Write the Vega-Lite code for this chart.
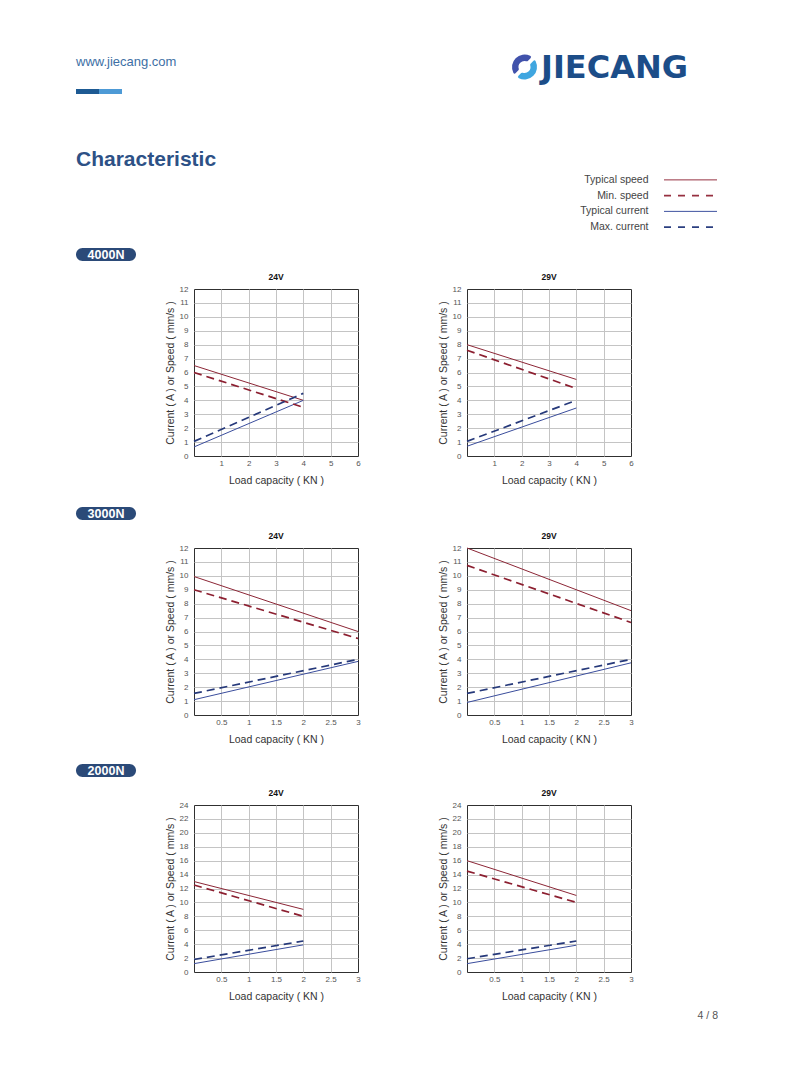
{
  "$schema": "https://vega.github.io/schema/vega-lite/v6.json",
  "background": "white",
  "padding": {"left": 76, "top": 52, "right": 0, "bottom": 0},
  "autosize": {"type": "pad"},
  "config": {
    "view": {"stroke": null},
    "font": "Liberation Sans",
    "axis": {"labelFont": "Liberation Sans", "labelFontSize": 8, "labelColor": "#555555", "titleFont": "Liberation Sans", "titleFontSize": 10.5, "titleFontWeight": "normal", "titleColor": "#333333", "ticks": false, "domain": false, "gridColor": "#c4c4c4", "gridWidth": 1, "labelFlush": false, "labelOverlap": false},
    "axisX": {"labelPadding": 3, "titlePadding": 8},
    "axisY": {"labelPadding": 6, "titlePadding": 4},
    "title": {"font": "Liberation Sans"},
    "text": {"font": "Liberation Sans"}
  },
  "datasets": {
    "curves": [
      {"panel": "4000N 24V", "series": "Typical speed", "load": 0, "value": 6.5},
      {"panel": "4000N 24V", "series": "Typical speed", "load": 4, "value": 4.0},
      {"panel": "4000N 24V", "series": "Min. speed", "load": 0, "value": 6.0},
      {"panel": "4000N 24V", "series": "Min. speed", "load": 4, "value": 3.5},
      {"panel": "4000N 24V", "series": "Typical current", "load": 0, "value": 0.65},
      {"panel": "4000N 24V", "series": "Typical current", "load": 4, "value": 4.0},
      {"panel": "4000N 24V", "series": "Max. current", "load": 0, "value": 1.05},
      {"panel": "4000N 24V", "series": "Max. current", "load": 4, "value": 4.5},
      {"panel": "4000N 29V", "series": "Typical speed", "load": 0, "value": 8.0},
      {"panel": "4000N 29V", "series": "Typical speed", "load": 4, "value": 5.5},
      {"panel": "4000N 29V", "series": "Min. speed", "load": 0, "value": 7.6},
      {"panel": "4000N 29V", "series": "Min. speed", "load": 4, "value": 4.85},
      {"panel": "4000N 29V", "series": "Typical current", "load": 0, "value": 0.7},
      {"panel": "4000N 29V", "series": "Typical current", "load": 4, "value": 3.45},
      {"panel": "4000N 29V", "series": "Max. current", "load": 0, "value": 1.05},
      {"panel": "4000N 29V", "series": "Max. current", "load": 4, "value": 4.0},
      {"panel": "3000N 24V", "series": "Typical speed", "load": 0, "value": 9.95},
      {"panel": "3000N 24V", "series": "Typical speed", "load": 3, "value": 6.0},
      {"panel": "3000N 24V", "series": "Min. speed", "load": 0, "value": 9.0},
      {"panel": "3000N 24V", "series": "Min. speed", "load": 3, "value": 5.5},
      {"panel": "3000N 24V", "series": "Typical current", "load": 0, "value": 1.1},
      {"panel": "3000N 24V", "series": "Typical current", "load": 3, "value": 3.85},
      {"panel": "3000N 24V", "series": "Max. current", "load": 0, "value": 1.55},
      {"panel": "3000N 24V", "series": "Max. current", "load": 3, "value": 4.0},
      {"panel": "3000N 29V", "series": "Typical speed", "load": 0, "value": 12.0},
      {"panel": "3000N 29V", "series": "Typical speed", "load": 3, "value": 7.5},
      {"panel": "3000N 29V", "series": "Min. speed", "load": 0, "value": 10.75},
      {"panel": "3000N 29V", "series": "Min. speed", "load": 3, "value": 6.65},
      {"panel": "3000N 29V", "series": "Typical current", "load": 0, "value": 0.9},
      {"panel": "3000N 29V", "series": "Typical current", "load": 3, "value": 3.75},
      {"panel": "3000N 29V", "series": "Max. current", "load": 0, "value": 1.55},
      {"panel": "3000N 29V", "series": "Max. current", "load": 3, "value": 4.0},
      {"panel": "2000N 24V", "series": "Typical speed", "load": 0, "value": 13.0},
      {"panel": "2000N 24V", "series": "Typical speed", "load": 2, "value": 9.0},
      {"panel": "2000N 24V", "series": "Min. speed", "load": 0, "value": 12.5},
      {"panel": "2000N 24V", "series": "Min. speed", "load": 2, "value": 8.0},
      {"panel": "2000N 24V", "series": "Typical current", "load": 0, "value": 1.2},
      {"panel": "2000N 24V", "series": "Typical current", "load": 2, "value": 3.9},
      {"panel": "2000N 24V", "series": "Max. current", "load": 0, "value": 1.8},
      {"panel": "2000N 24V", "series": "Max. current", "load": 2, "value": 4.45},
      {"panel": "2000N 29V", "series": "Typical speed", "load": 0, "value": 16.0},
      {"panel": "2000N 29V", "series": "Typical speed", "load": 2, "value": 11.0},
      {"panel": "2000N 29V", "series": "Min. speed", "load": 0, "value": 14.5},
      {"panel": "2000N 29V", "series": "Min. speed", "load": 2, "value": 10.0},
      {"panel": "2000N 29V", "series": "Typical current", "load": 0, "value": 1.2},
      {"panel": "2000N 29V", "series": "Typical current", "load": 2, "value": 3.85},
      {"panel": "2000N 29V", "series": "Max. current", "load": 0, "value": 1.9},
      {"panel": "2000N 29V", "series": "Max. current", "load": 2, "value": 4.45}
    ],
    "series": [
      {"series": "Typical speed"},
      {"series": "Min. speed"},
      {"series": "Typical current"},
      {"series": "Max. current"}
    ]
  },
  "columns": 4,
  "align": "each",
  "bounds": "flush",
  "spacing": {"row": 0, "column": 33},
  "resolve": {"scale": {"color": "independent", "theta": "independent"}},
  "concat": [
    {"width": 1, "height": 36, "data": {"values": []}, "mark": "point"},
    {"width": 240, "height": 1, "data": {"values": []}, "mark": "point"},
    {
      "width": 115, "height": 28,
      "title": {"text": "JIECANG", "anchor": "start", "frame": "group", "baseline": "alphabetic", "offset": -57, "dx": 74, "font": "DejaVu Sans", "fontSize": 32, "fontWeight": "bold", "color": "#1c4d88"},
      "data": {"values": [{"part": "a", "share": 1}, {"part": "b", "share": 1}]},
      "mark": {"type": "arc", "innerRadius": 6, "outerRadius": 12.5, "padAngle": 0.28, "cornerRadius": 1.5},
      "encoding": {
        "theta": {"field": "share", "type": "quantitative", "stack": true, "scale": {"range": [0.785, 7.068]}},
        "color": {"field": "part", "type": "nominal", "scale": {"domain": ["a", "b"], "range": ["#3fa6e0", "#4152ab"]}, "legend": null}
      }
    },
    {"width": 1, "height": 1, "data": {"values": []}, "mark": "point"},

    {
      "width": 46, "height": 5,
      "title": {"text": "www.jiecang.com", "anchor": "start", "frame": "group", "baseline": "alphabetic", "offset": 10, "fontSize": 13, "fontWeight": "normal", "color": "#3d6fa5"},
      "data": {"values": [{"seg": "a", "share": 1}, {"seg": "b", "share": 1}]},
      "mark": "bar",
      "encoding": {
        "x": {"field": "share", "type": "quantitative", "stack": "zero", "scale": {"domain": [0, 2], "nice": false}, "axis": null},
        "y": {"datum": "site", "type": "nominal", "scale": {"paddingInner": 0, "paddingOuter": 0}, "axis": null},
        "color": {"field": "seg", "type": "nominal", "scale": {"domain": ["a", "b"], "range": ["#1d5a93", "#4d9ad6"]}, "legend": null}
      }
    },
    {"width": 1, "height": 83, "data": {"values": []}, "mark": "point"},
    {"width": 1, "height": 1, "data": {"values": []}, "mark": "point"},
    {"width": 1, "height": 1, "data": {"values": []}, "mark": "point"},

    {
      "width": 85, "height": 76,
      "title": {"text": "Characteristic", "anchor": "start", "frame": "group", "baseline": "alphabetic", "offset": -15, "fontSize": 21, "fontWeight": "bold", "color": "#2d5186"},
      "data": {"values": []},
      "mark": "point"
    },
    {"width": 1, "height": 1, "data": {"values": []}, "mark": "point"},
    {"width": 1, "height": 1, "data": {"values": []}, "mark": "point"},
    {
      "width": 53, "height": 63,
      "data": {"name": "series"},
      "encoding": {
        "y": {"field": "series", "type": "nominal", "scale": {"domain": ["Typical speed", "Min. speed", "Typical current", "Max. current"]}, "axis": {"title": null, "domain": false, "ticks": false, "grid": false, "labelPadding": 16, "labelFontSize": 10.5, "labelColor": "#444444"}},
        "x": {"datum": 0, "type": "quantitative", "scale": {"domain": [0, 1], "nice": false, "zero": false}, "axis": null},
        "x2": {"datum": 1},
        "color": {"field": "series", "type": "nominal", "scale": {"domain": ["Typical speed", "Min. speed", "Typical current", "Max. current"], "range": ["#963040", "#963040", "#3f53a0", "#2b3f80"]}, "legend": null}
      },
      "layer": [
        {"transform": [{"filter": "datum.series === 'Typical speed' || datum.series === 'Typical current'"}], "mark": {"type": "rule", "strokeWidth": 1}},
        {"transform": [{"filter": "datum.series === 'Min. speed' || datum.series === 'Max. current'"}], "mark": {"type": "rule", "strokeWidth": 1.6, "strokeDash": [7, 7]}}
      ]
    },

    {
      "width": 60, "height": 13,
      "data": {"values": [{"label": "4000N"}]},
      "layer": [
        {"mark": {"type": "bar", "cornerRadius": 6.5, "color": "#2b4a78"}},
        {"mark": {"type": "text", "color": "white", "fontWeight": "bold", "fontSize": 12.5}, "encoding": {"text": {"field": "label"}}}
      ]
    },
    {"width": 1, "height": 41, "data": {"values": []}, "mark": "point"},
    {"width": 1, "height": 1, "data": {"values": []}, "mark": "point"},
    {"width": 1, "height": 1, "data": {"values": []}, "mark": "point"},

    {"width": 1, "height": 218, "data": {"values": []}, "mark": "point"},
    {
      "width": 164, "height": 167,
      "view": {"stroke": "#303030", "strokeWidth": 1},
      "title": {"text": "24V", "fontSize": 8.5, "fontWeight": "bold", "color": "#111111", "frame": "group", "anchor": "middle", "baseline": "alphabetic", "offset": -3},
      "data": {"name": "curves"},
      "transform": [{"filter": "datum.panel === '4000N 24V'"}],
      "encoding": {
        "x": {"field": "load", "type": "quantitative", "scale": {"domain": [0, 6], "nice": false, "zero": false}, "axis": {"title": "Load capacity ( KN )", "values": [1, 2, 3, 4, 5, 6], "format": "~g", "gridOpacity": {"condition": {"test": "datum.value >= 6", "value": 0}, "value": 1}}},
        "y": {"field": "value", "type": "quantitative", "scale": {"domain": [0, 12], "nice": false}, "axis": {"title": "Current ( A ) or Speed ( mm/s )", "values": [0, 1, 2, 3, 4, 5, 6, 7, 8, 9, 10, 11, 12], "gridOpacity": {"condition": {"test": "datum.value <= 0 || datum.value >= 12", "value": 0}, "value": 1}}},
        "color": {"field": "series", "type": "nominal", "scale": {"domain": ["Typical speed", "Min. speed", "Typical current", "Max. current"], "range": ["#8c2636", "#8c1f30", "#3a4d9c", "#26397a"]}, "legend": null}
      },
      "layer": [
        {"transform": [{"filter": "datum.series === 'Typical speed' || datum.series === 'Typical current'"}], "mark": {"type": "line", "strokeWidth": 1, "strokeCap": "butt"}},
        {"transform": [{"filter": "datum.series === 'Min. speed' || datum.series === 'Max. current'"}], "mark": {"type": "line", "strokeWidth": 1.7, "strokeDash": [8, 5], "strokeCap": "butt"}}
      ]
    },
    {
      "width": 164, "height": 167,
      "view": {"stroke": "#303030", "strokeWidth": 1},
      "title": {"text": "29V", "fontSize": 8.5, "fontWeight": "bold", "color": "#111111", "frame": "group", "anchor": "middle", "baseline": "alphabetic", "offset": -3},
      "data": {"name": "curves"},
      "transform": [{"filter": "datum.panel === '4000N 29V'"}],
      "encoding": {
        "x": {"field": "load", "type": "quantitative", "scale": {"domain": [0, 6], "nice": false, "zero": false}, "axis": {"title": "Load capacity ( KN )", "values": [1, 2, 3, 4, 5, 6], "format": "~g", "gridOpacity": {"condition": {"test": "datum.value >= 6", "value": 0}, "value": 1}}},
        "y": {"field": "value", "type": "quantitative", "scale": {"domain": [0, 12], "nice": false}, "axis": {"title": "Current ( A ) or Speed ( mm/s )", "values": [0, 1, 2, 3, 4, 5, 6, 7, 8, 9, 10, 11, 12], "gridOpacity": {"condition": {"test": "datum.value <= 0 || datum.value >= 12", "value": 0}, "value": 1}}},
        "color": {"field": "series", "type": "nominal", "scale": {"domain": ["Typical speed", "Min. speed", "Typical current", "Max. current"], "range": ["#8c2636", "#8c1f30", "#3a4d9c", "#26397a"]}, "legend": null}
      },
      "layer": [
        {"transform": [{"filter": "datum.series === 'Typical speed' || datum.series === 'Typical current'"}], "mark": {"type": "line", "strokeWidth": 1, "strokeCap": "butt"}},
        {"transform": [{"filter": "datum.series === 'Min. speed' || datum.series === 'Max. current'"}], "mark": {"type": "line", "strokeWidth": 1.7, "strokeDash": [8, 5], "strokeCap": "butt"}}
      ]
    },
    {"width": 1, "height": 1, "data": {"values": []}, "mark": "point"},

    {
      "width": 60, "height": 13,
      "data": {"values": [{"label": "3000N"}]},
      "layer": [
        {"mark": {"type": "bar", "cornerRadius": 6.5, "color": "#2b4a78"}},
        {"mark": {"type": "text", "color": "white", "fontWeight": "bold", "fontSize": 12.5}, "encoding": {"text": {"field": "label"}}}
      ]
    },
    {"width": 1, "height": 41, "data": {"values": []}, "mark": "point"},
    {"width": 1, "height": 1, "data": {"values": []}, "mark": "point"},
    {"width": 1, "height": 1, "data": {"values": []}, "mark": "point"},

    {"width": 1, "height": 216, "data": {"values": []}, "mark": "point"},
    {
      "width": 164, "height": 167,
      "view": {"stroke": "#303030", "strokeWidth": 1},
      "title": {"text": "24V", "fontSize": 8.5, "fontWeight": "bold", "color": "#111111", "frame": "group", "anchor": "middle", "baseline": "alphabetic", "offset": -3},
      "data": {"name": "curves"},
      "transform": [{"filter": "datum.panel === '3000N 24V'"}],
      "encoding": {
        "x": {"field": "load", "type": "quantitative", "scale": {"domain": [0, 3], "nice": false, "zero": false}, "axis": {"title": "Load capacity ( KN )", "values": [0.5, 1, 1.5, 2, 2.5, 3], "format": "~g", "gridOpacity": {"condition": {"test": "datum.value >= 3", "value": 0}, "value": 1}}},
        "y": {"field": "value", "type": "quantitative", "scale": {"domain": [0, 12], "nice": false}, "axis": {"title": "Current ( A ) or Speed ( mm/s )", "values": [0, 1, 2, 3, 4, 5, 6, 7, 8, 9, 10, 11, 12], "gridOpacity": {"condition": {"test": "datum.value <= 0 || datum.value >= 12", "value": 0}, "value": 1}}},
        "color": {"field": "series", "type": "nominal", "scale": {"domain": ["Typical speed", "Min. speed", "Typical current", "Max. current"], "range": ["#8c2636", "#8c1f30", "#3a4d9c", "#26397a"]}, "legend": null}
      },
      "layer": [
        {"transform": [{"filter": "datum.series === 'Typical speed' || datum.series === 'Typical current'"}], "mark": {"type": "line", "strokeWidth": 1, "strokeCap": "butt"}},
        {"transform": [{"filter": "datum.series === 'Min. speed' || datum.series === 'Max. current'"}], "mark": {"type": "line", "strokeWidth": 1.7, "strokeDash": [8, 5], "strokeCap": "butt"}}
      ]
    },
    {
      "width": 164, "height": 167,
      "view": {"stroke": "#303030", "strokeWidth": 1},
      "title": {"text": "29V", "fontSize": 8.5, "fontWeight": "bold", "color": "#111111", "frame": "group", "anchor": "middle", "baseline": "alphabetic", "offset": -3},
      "data": {"name": "curves"},
      "transform": [{"filter": "datum.panel === '3000N 29V'"}],
      "encoding": {
        "x": {"field": "load", "type": "quantitative", "scale": {"domain": [0, 3], "nice": false, "zero": false}, "axis": {"title": "Load capacity ( KN )", "values": [0.5, 1, 1.5, 2, 2.5, 3], "format": "~g", "gridOpacity": {"condition": {"test": "datum.value >= 3", "value": 0}, "value": 1}}},
        "y": {"field": "value", "type": "quantitative", "scale": {"domain": [0, 12], "nice": false}, "axis": {"title": "Current ( A ) or Speed ( mm/s )", "values": [0, 1, 2, 3, 4, 5, 6, 7, 8, 9, 10, 11, 12], "gridOpacity": {"condition": {"test": "datum.value <= 0 || datum.value >= 12", "value": 0}, "value": 1}}},
        "color": {"field": "series", "type": "nominal", "scale": {"domain": ["Typical speed", "Min. speed", "Typical current", "Max. current"], "range": ["#8c2636", "#8c1f30", "#3a4d9c", "#26397a"]}, "legend": null}
      },
      "layer": [
        {"transform": [{"filter": "datum.series === 'Typical speed' || datum.series === 'Typical current'"}], "mark": {"type": "line", "strokeWidth": 1, "strokeCap": "butt"}},
        {"transform": [{"filter": "datum.series === 'Min. speed' || datum.series === 'Max. current'"}], "mark": {"type": "line", "strokeWidth": 1.7, "strokeDash": [8, 5], "strokeCap": "butt"}}
      ]
    },
    {"width": 1, "height": 1, "data": {"values": []}, "mark": "point"},

    {
      "width": 60, "height": 13,
      "data": {"values": [{"label": "2000N"}]},
      "layer": [
        {"mark": {"type": "bar", "cornerRadius": 6.5, "color": "#2b4a78"}},
        {"mark": {"type": "text", "color": "white", "fontWeight": "bold", "fontSize": 12.5}, "encoding": {"text": {"field": "label"}}}
      ]
    },
    {"width": 1, "height": 41, "data": {"values": []}, "mark": "point"},
    {"width": 1, "height": 1, "data": {"values": []}, "mark": "point"},
    {"width": 1, "height": 1, "data": {"values": []}, "mark": "point"},

    {"width": 1, "height": 235, "data": {"values": []}, "mark": "point"},
    {
      "width": 164, "height": 167,
      "view": {"stroke": "#303030", "strokeWidth": 1},
      "title": {"text": "24V", "fontSize": 8.5, "fontWeight": "bold", "color": "#111111", "frame": "group", "anchor": "middle", "baseline": "alphabetic", "offset": -3},
      "data": {"name": "curves"},
      "transform": [{"filter": "datum.panel === '2000N 24V'"}],
      "encoding": {
        "x": {"field": "load", "type": "quantitative", "scale": {"domain": [0, 3], "nice": false, "zero": false}, "axis": {"title": "Load capacity ( KN )", "values": [0.5, 1, 1.5, 2, 2.5, 3], "format": "~g", "gridOpacity": {"condition": {"test": "datum.value >= 3", "value": 0}, "value": 1}}},
        "y": {"field": "value", "type": "quantitative", "scale": {"domain": [0, 24], "nice": false}, "axis": {"title": "Current ( A ) or Speed ( mm/s )", "values": [0, 2, 4, 6, 8, 10, 12, 14, 16, 18, 20, 22, 24], "gridOpacity": {"condition": {"test": "datum.value <= 0 || datum.value >= 24", "value": 0}, "value": 1}}},
        "color": {"field": "series", "type": "nominal", "scale": {"domain": ["Typical speed", "Min. speed", "Typical current", "Max. current"], "range": ["#8c2636", "#8c1f30", "#3a4d9c", "#26397a"]}, "legend": null}
      },
      "layer": [
        {"transform": [{"filter": "datum.series === 'Typical speed' || datum.series === 'Typical current'"}], "mark": {"type": "line", "strokeWidth": 1, "strokeCap": "butt"}},
        {"transform": [{"filter": "datum.series === 'Min. speed' || datum.series === 'Max. current'"}], "mark": {"type": "line", "strokeWidth": 1.7, "strokeDash": [8, 5], "strokeCap": "butt"}}
      ]
    },
    {
      "width": 164, "height": 167,
      "view": {"stroke": "#303030", "strokeWidth": 1},
      "title": {"text": "29V", "fontSize": 8.5, "fontWeight": "bold", "color": "#111111", "frame": "group", "anchor": "middle", "baseline": "alphabetic", "offset": -3},
      "data": {"name": "curves"},
      "transform": [{"filter": "datum.panel === '2000N 29V'"}],
      "encoding": {
        "x": {"field": "load", "type": "quantitative", "scale": {"domain": [0, 3], "nice": false, "zero": false}, "axis": {"title": "Load capacity ( KN )", "values": [0.5, 1, 1.5, 2, 2.5, 3], "format": "~g", "gridOpacity": {"condition": {"test": "datum.value >= 3", "value": 0}, "value": 1}}},
        "y": {"field": "value", "type": "quantitative", "scale": {"domain": [0, 24], "nice": false}, "axis": {"title": "Current ( A ) or Speed ( mm/s )", "values": [0, 2, 4, 6, 8, 10, 12, 14, 16, 18, 20, 22, 24], "gridOpacity": {"condition": {"test": "datum.value <= 0 || datum.value >= 24", "value": 0}, "value": 1}}},
        "color": {"field": "series", "type": "nominal", "scale": {"domain": ["Typical speed", "Min. speed", "Typical current", "Max. current"], "range": ["#8c2636", "#8c1f30", "#3a4d9c", "#26397a"]}, "legend": null}
      },
      "layer": [
        {"transform": [{"filter": "datum.series === 'Typical speed' || datum.series === 'Typical current'"}], "mark": {"type": "line", "strokeWidth": 1, "strokeCap": "butt"}},
        {"transform": [{"filter": "datum.series === 'Min. speed' || datum.series === 'Max. current'"}], "mark": {"type": "line", "strokeWidth": 1.7, "strokeDash": [8, 5], "strokeCap": "butt"}}
      ]
    },
    {"width": 1, "height": 1, "data": {"values": []}, "mark": "point"},

    {"width": 1, "height": 1, "data": {"values": []}, "mark": "point"},
    {"width": 1, "height": 1, "data": {"values": []}, "mark": "point"},
    {"width": 1, "height": 1, "data": {"values": []}, "mark": "point"},
    {
      "width": 54, "height": 1,
      "title": {"text": "4 / 8", "anchor": "end", "frame": "group", "baseline": "alphabetic", "offset": 11, "fontSize": 10.5, "fontWeight": "normal", "color": "#555555"},
      "data": {"values": []},
      "mark": "point"
    }
  ]
}
